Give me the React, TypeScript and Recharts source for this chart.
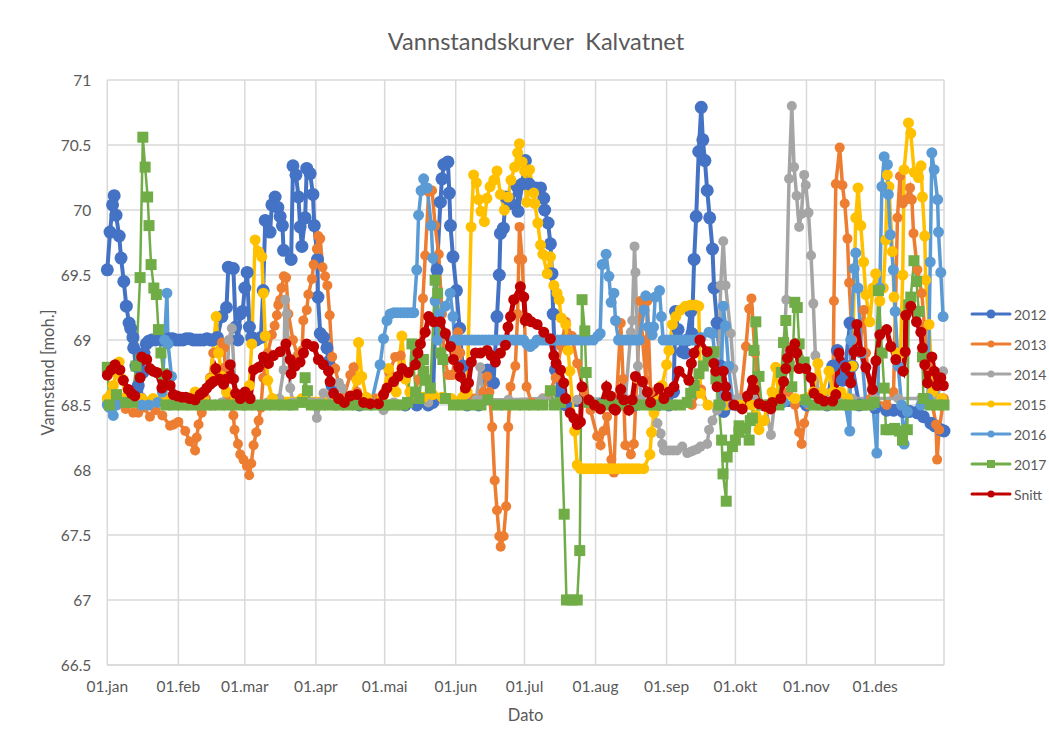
import { LineChart, Line, XAxis, YAxis, CartesianGrid, Legend } from 'recharts';

type Pt = number[];

// [day of year, water level]
const s2012: Pt[] = [[0,69.54],[1.2,69.83],[2.3,70.04],[3,70.11],[3.8,69.96],[5.2,69.8],[6,69.63],[7.2,69.45],[8.3,69.26],[9.5,69.13],[10.2,69.09],[11.2,69.02],[11.5,68.94],[12.5,68.8],[13.5,68.65],[14.5,68.55],[15.5,68.75],[16,68.9],[17,68.97],[18,68.99],[19.4,69.0],[21,69.0],[22.5,69.01],[24,69.0],[25.5,69.0],[27,69.01],[28.5,69.01],[30,69.0],[31.5,69.0],[33,69.0],[34.5,69.01],[36,69.01],[37.5,69.0],[39,69.0],[40.5,69.0],[42,69.0],[43.5,69.01],[45,69.0],[46,69.0],[48,69.02],[50,69.18],[52,69.25],[52.8,69.56],[55,69.55],[56,69.1],[57,69.0],[58,69.2],[59,69.22],[60,69.4],[61,69.52],[62,69.1],[63,69.02],[65,69.0],[67,69.02],[68,69.38],[68.9,69.92],[71,69.83],[71.8,70.04],[73.2,70.1],[74.4,70.02],[75.4,69.95],[76.4,69.88],[76.9,69.69],[80.2,69.62],[81,70.34],[82.3,70.27],[83.4,70.1],[84.1,69.87],[84.9,69.72],[86.3,69.94],[87,70.32],[88.5,70.28],[89.7,70.12],[90.3,69.88],[91.7,69.62],[91.9,69.33],[92.9,69.05],[94.3,69.02],[95.8,68.94],[96.4,68.83],[98,68.65],[100,68.52],[110,68.5],[120,68.5],[130,68.5],[135,68.5],[140,68.5],[142,68.52],[143.8,69.54],[145.3,70.06],[146,70.24],[146.8,70.35],[148.6,70.37],[149.2,70.13],[149.7,69.88],[150.8,69.64],[152.3,69.38],[153.7,69.09],[155,68.8],[157,68.5],[162,68.5],[165.9,68.77],[168.5,68.67],[170,69.18],[171,69.5],[171.5,69.82],[172.8,69.86],[173.8,70.1],[176,70.05],[178.8,70.18],[179.2,69.99],[181,70.2],[182.4,70.38],[184,70.2],[187,70.17],[189,70.17],[190.4,70.09],[190.8,70.0],[192.3,69.9],[193.3,69.74],[194,69.51],[194.5,69.2],[195.5,68.77],[197,68.6],[200,68.5],[215,68.5],[230,68.5],[240,68.5],[245,68.5],[247,68.6],[247.9,69.22],[249,69.08],[250.8,68.91],[252,68.9],[253,69.0],[254.5,69.22],[255,69.05],[256,69.62],[256.9,69.95],[258,70.45],[259.1,70.79],[259.8,70.54],[260.7,70.38],[261.7,70.15],[262.8,69.94],[264,69.7],[264.7,69.4],[266,69.13],[267.5,68.8],[268.9,68.45],[275,68.5],[290,68.5],[305,68.5],[314,68.5],[316.5,68.8],[318.5,68.92],[320.7,68.69],[322,68.8],[324,69.13],[325,68.8],[328,68.5],[335,68.48],[340,68.46],[343,68.46],[347,68.45],[350,68.45],[353.4,68.44],[356,68.41],[359.3,68.36],[361,68.34],[363.6,68.31],[365,68.3]];

const s2013: Pt[] = [[0,68.55],[5,68.52],[8,68.47],[11.3,68.44],[13.5,68.44],[16,68.48],[18.6,68.41],[21,68.46],[24,68.42],[27.4,68.34],[29,68.35],[31,68.37],[34,68.3],[36,68.22],[38.3,68.15],[39,68.25],[39.8,68.35],[41.2,68.44],[43,68.55],[44.8,68.71],[46.2,68.9],[50,68.98],[51,68.94],[51.4,68.79],[53,68.55],[55,68.42],[55.5,68.31],[57,68.2],[58,68.12],[59.4,68.08],[60.9,68.03],[61.9,67.96],[62.8,68.05],[63.8,68.19],[65,68.29],[66,68.38],[67,68.48],[68,68.71],[70,68.9],[71.8,69.04],[73,69.11],[74,69.19],[74.6,69.27],[75.4,69.31],[76,69.4],[77,69.49],[78,69.48],[79,69.2],[81,69.0],[83,68.88],[85,68.92],[85.5,69.15],[87,69.23],[87.7,69.35],[89.3,69.47],[90,69.58],[91.4,69.7],[92,69.8],[92.9,69.78],[93.9,69.56],[95,69.49],[96,69.42],[97,69.19],[98.1,68.87],[99.4,68.78],[100.9,68.67],[103,68.55],[106,68.73],[107.4,68.79],[109,68.6],[112,68.55],[117,68.55],[121,68.6],[123,68.75],[125.6,68.87],[128,68.88],[130,68.7],[133,68.55],[136,68.7],[137.7,69.32],[138.7,69.65],[140.2,70.14],[141.7,70.15],[143,69.88],[144.6,69.66],[146,69.2],[147,68.85],[148.8,68.73],[150.5,68.73],[152,68.9],[153,69.06],[154,68.9],[156,68.6],[160,68.55],[164,68.6],[165.7,68.72],[166.7,68.6],[167.9,68.33],[169,67.92],[170,67.69],[171,67.49],[171.6,67.41],[172.9,67.49],[174,67.72],[174.9,68.33],[175.9,68.64],[178,68.8],[179,69.2],[179.5,69.62],[179.8,69.87],[181,69.62],[182,69.15],[182.9,68.64],[185,68.52],[190,68.55],[193,68.6],[195.6,68.71],[198,68.95],[200,69.14],[202.7,69.03],[205,68.82],[208,68.6],[210.8,68.46],[213.7,68.26],[215.2,68.19],[216.5,68.3],[218,68.41],[219.9,68.08],[221,67.98],[222,68.5],[224,69.13],[225,68.7],[226,68.19],[228.4,68.12],[229.7,68.2],[231,68.7],[232.6,69.3],[233.5,69.0],[235,68.69],[235.6,69.3],[237,68.6],[240,68.5],[250,68.5],[255,68.5],[259,68.62],[262,68.5],[270,68.5],[276,68.5],[278.6,68.95],[280,69.24],[281,69.32],[282.5,68.9],[285,68.5],[292,68.55],[297,68.6],[300,68.5],[301.8,68.29],[302.9,68.2],[304,68.36],[306,68.5],[312,68.55],[316.5,68.55],[317,69.3],[317.8,70.2],[319.5,70.48],[320.7,70.19],[321.7,70.05],[322.9,69.78],[323.6,69.44],[325,69.0],[328,68.9],[330,69.23],[331,68.9],[333,68.55],[340,68.5],[343,68.6],[344.7,69.94],[345.8,70.26],[347,70.05],[348.3,70.08],[350.2,70.17],[351,70.08],[351.7,69.82],[353.4,69.54],[355.3,69.36],[356.5,69.1],[358,68.8],[360,68.5],[361.5,68.35],[362,68.08],[362.9,68.31],[364.9,68.55]];

const s2014: Pt[] = [[0,68.52],[20,68.52],[40,68.52],[50,68.52],[52,68.6],[53,69.0],[54.3,69.09],[55.5,68.7],[57,68.52],[70,68.52],[75,68.55],[76.9,68.77],[77.6,69.31],[78.3,69.2],[79.8,68.63],[81,68.52],[88,68.52],[90,68.52],[91.4,68.4],[93,68.52],[94.3,68.59],[98,68.55],[100.9,68.67],[102.3,68.63],[105,68.52],[115,68.52],[120.5,68.46],[125,68.52],[140,68.52],[155,68.53],[161,68.54],[162.7,68.79],[164,68.54],[175,68.54],[190,68.55],[205,68.54],[220,68.55],[226,68.55],[228.4,69.06],[229,69.15],[230,69.72],[230.4,69.52],[231.5,68.8],[233,68.55],[237,68.5],[240,68.36],[241.4,68.28],[242.1,68.2],[242.8,68.15],[244,68.15],[245.5,68.15],[247,68.15],[248.5,68.15],[250.8,68.18],[253,68.13],[254.5,68.14],[255.8,68.15],[257.3,68.16],[258.8,68.18],[261.7,68.2],[262.5,68.31],[264,68.38],[266,68.46],[267.6,69.42],[268.7,69.76],[269.7,69.42],[272,69.05],[273.1,68.78],[275,68.55],[282,68.55],[287,68.5],[289.5,68.27],[291,68.5],[294,68.55],[296.2,69.31],[297.4,70.24],[298.6,70.8],[299.6,70.33],[300.7,70.11],[301.8,69.87],[302.8,69.97],[304,70.27],[304.7,70.19],[305.9,69.98],[307,69.65],[308,69.28],[308.9,68.88],[310,68.6],[315,68.55],[325,68.55],[335,68.55],[345,68.55],[355,68.55],[362,68.55],[364.6,68.76]];

const s2015: Pt[] = [[0,68.55],[1.5,68.58],[2.6,68.65],[4,68.75],[5.2,68.83],[6.5,68.7],[8,68.56],[15,68.55],[20,68.55],[25,68.55],[32,68.55],[38.3,68.6],[42,68.55],[45,68.7],[47.5,69.18],[48.5,68.9],[50,68.72],[52,68.6],[56,68.55],[60,68.56],[62,68.65],[63,68.97],[64.5,69.77],[66,69.68],[67.4,69.64],[68.1,69.36],[68.9,69.03],[70,68.69],[72,68.55],[85,68.55],[100,68.55],[106,68.56],[108.9,68.69],[109.6,68.98],[111,68.72],[113,68.56],[120,68.56],[122.7,68.78],[124,68.7],[126,68.6],[128.5,69.03],[130,68.7],[132,68.6],[135,68.58],[138,68.56],[142,68.58],[146,68.56],[150,68.55],[155,68.56],[157,68.6],[158.7,69.87],[159.8,70.27],[161,70.21],[162,70.08],[163,69.99],[164.5,69.91],[165.6,70.09],[167,70.18],[168.6,70.23],[170,70.3],[171.5,70.12],[173.2,70.0],[174.8,70.1],[176.1,70.23],[177.7,70.33],[179,70.44],[179.8,70.51],[181,70.37],[182,70.3],[183,70.06],[184.2,70.31],[186,70.13],[186.5,70.05],[187.8,69.9],[189,69.73],[190,69.66],[191.9,69.51],[193.3,69.64],[194.8,69.42],[196.2,69.36],[197.1,69.31],[198,69.17],[200,69.12],[201,68.92],[201.8,68.76],[203.9,68.3],[205,68.04],[206.4,68.01],[208,68.01],[209.5,68.01],[211,68.01],[212.5,68.01],[214,68.01],[215.5,68.01],[217,68.01],[218.5,68.01],[220,68.01],[221.5,68.01],[223,68.01],[224.5,68.01],[226,68.01],[227.5,68.01],[229,68.01],[230.5,68.01],[232,68.01],[234,68.01],[236.7,68.12],[237.4,68.29],[238.5,68.44],[240,68.53],[242,68.65],[244,68.81],[245,68.92],[246.5,69.12],[248,69.18],[250,69.23],[252.2,69.26],[254.5,69.27],[256.6,69.27],[258,69.26],[258.8,68.59],[262,68.5],[270,68.5],[276,68.5],[281,68.5],[283,68.42],[284.3,68.31],[286.5,68.38],[288,68.5],[290,68.6],[291.6,68.79],[293,68.55],[300,68.55],[308,68.6],[310,68.82],[312,68.6],[314.8,68.76],[316.5,68.6],[320,68.6],[323,68.55],[325,68.8],[326.5,69.94],[327.5,70.17],[328.7,69.88],[329.9,69.6],[330.9,69.35],[332.6,69.14],[334,69.4],[335.2,69.51],[337,69.3],[338.5,69.4],[339.6,69.77],[340.3,70.27],[341,70.18],[342.5,69.68],[343.2,69.33],[344.5,68.9],[346,68.9],[347,69.5],[347.6,70.31],[349.5,70.67],[350.5,70.59],[352,70.29],[353.9,70.25],[355,70.34],[355.6,70.1],[356.6,69.8],[357,69.46],[358.5,69.12],[360,68.6],[364,68.55]];

const s2016: Pt[] = [[0,68.5],[1,68.48],[2.6,68.42],[4,68.5],[15,68.5],[18,68.5],[22,68.52],[24,68.6],[25,69.0],[26,69.36],[26.5,68.97],[28,68.72],[30,68.52],[45,68.5],[60,68.5],[80,68.5],[100,68.5],[115,68.5],[119,68.81],[120.5,69.01],[122,69.15],[123.4,69.2],[125,69.21],[126.5,69.21],[128,69.21],[129.5,69.21],[131,69.21],[132.5,69.21],[133.7,69.21],[135,69.54],[135.8,69.96],[136.9,70.15],[138,70.24],[139.6,70.17],[141.3,69.88],[142,69.63],[143,69.3],[144,69.0],[145,69.2],[147.5,69.26],[149.6,69.36],[150.8,69.18],[151.5,69.0],[153,69.0],[154.5,69.0],[156,69.0],[157.5,69.0],[159,69.0],[160.5,69.0],[162,69.0],[163.5,69.0],[165,69.0],[166.5,69.0],[168,69.0],[169.5,69.0],[171,69.0],[172.5,69.0],[174,69.0],[175.5,69.0],[177,69.0],[178.5,69.0],[180,69.0],[181.6,69.0],[183,68.97],[184.5,68.95],[186,68.97],[187.5,69.0],[189,69.0],[190.5,69.0],[192,69.0],[193.5,69.0],[195,69.0],[196.5,69.0],[198,69.0],[199.5,69.0],[201,69.0],[202.5,69.0],[204,69.0],[205.5,69.0],[207,69.0],[208.5,69.0],[210,69.0],[212,69.0],[214,69.03],[215,69.05],[215.9,69.58],[217.6,69.66],[218.8,69.49],[219.8,69.29],[221,69.36],[221.7,69.15],[223,69.0],[224.5,69.0],[226,69.0],[227.5,69.0],[229,69.0],[230.5,69.0],[232,69.0],[234.2,69.23],[234.9,69.34],[236,69.1],[237.7,69.04],[238.3,69.1],[239,69.33],[240.9,69.38],[241.7,69.18],[242.5,69.0],[244,69.0],[245.5,69.0],[247,69.0],[248.5,69.0],[250,69.0],[251.5,69.0],[253,69.0],[254.5,69.0],[256,69.0],[259,69.02],[262.5,69.06],[264,69.05],[267.5,68.5],[268.7,69.26],[269.7,69.11],[271,68.8],[273,68.5],[285,68.5],[295,68.52],[305,68.52],[315,68.52],[322,68.5],[323.9,68.3],[324.3,69.0],[325.8,69.55],[326.5,69.67],[327.5,69.4],[329,68.9],[331,68.5],[334,68.5],[335.7,68.13],[337,69.4],[337.9,70.18],[338.9,70.41],[340.3,70.35],[340.7,70.12],[341.6,69.81],[342.9,69.54],[343.7,69.22],[345,68.8],[346.5,68.5],[347.6,68.2],[349,68.45],[355,68.5],[358,68.55],[359,69.6],[359.7,70.44],[360.7,70.31],[362.2,70.08],[362.6,69.83],[363.6,69.52],[364.6,69.18]];

const s2017: Pt[] = [[0,68.79],[1,68.5],[4,68.58],[8,68.52],[11,68.52],[12.5,68.8],[14.3,69.48],[15.5,70.56],[16.5,70.33],[17.6,70.1],[18.2,69.88],[19.1,69.58],[20.3,69.4],[21.4,69.35],[22.3,69.08],[23.4,68.9],[24.4,68.74],[25.5,68.5],[29,68.5],[33,68.5],[37,68.5],[41,68.5],[45,68.5],[49,68.5],[53,68.5],[57,68.5],[61,68.5],[65,68.5],[69,68.5],[73,68.5],[77,68.5],[81,68.5],[85,68.52],[86.3,68.71],[87.3,68.61],[89,68.5],[93,68.5],[97,68.5],[101,68.5],[105,68.5],[109,68.5],[113,68.5],[117,68.5],[121,68.5],[125,68.5],[129,68.5],[131,68.52],[132.9,68.97],[134.5,68.6],[136,68.55],[137.9,68.85],[138,68.76],[138.7,68.69],[140.9,68.63],[143,69.46],[144.1,69.36],[145.5,68.9],[146.4,68.85],[147.5,68.55],[151,68.5],[155,68.5],[159,68.5],[163,68.5],[166,68.54],[170,68.5],[174,68.5],[178,68.5],[182,68.5],[186,68.5],[190,68.5],[193.3,68.61],[195,68.5],[197.7,68.52],[199.3,67.66],[200.3,67.0],[202.8,67.0],[205,67.0],[206.1,67.38],[207.1,69.31],[208.3,69.07],[208.9,68.75],[210,68.52],[214,68.5],[218,68.5],[222,68.5],[226,68.5],[230,68.5],[234,68.5],[238,68.5],[242,68.5],[246,68.5],[250,68.5],[253,68.52],[254.5,68.59],[256,68.65],[258.1,68.74],[260,68.8],[262,68.85],[264.6,68.91],[265.5,68.7],[266.8,68.5],[268,68.23],[268.6,67.97],[270,67.76],[270.4,68.1],[272.7,68.18],[274,68.23],[275.5,68.29],[275.6,68.34],[277.8,68.32],[280,68.23],[280.5,68.38],[281.4,68.4],[282.1,68.92],[282.9,69.14],[284.3,68.72],[285.5,68.5],[289,68.5],[293,68.5],[294,68.75],[295,68.98],[296,69.15],[297.5,68.8],[298.6,68.64],[299.9,69.29],[301,69.25],[301.8,68.97],[304,68.83],[304.7,68.54],[308,68.5],[312,68.5],[316,68.5],[320,68.5],[324,68.5],[328,68.5],[332,68.5],[334.5,68.52],[336.4,69.38],[338,68.9],[338.9,68.63],[339.7,68.31],[341.5,68.31],[343.5,68.32],[345.5,68.3],[346.9,68.23],[349,68.31],[349.6,69.27],[350.5,69.33],[351.9,69.61],[353,69.45],[354,69.22],[355.6,68.87],[356,68.55],[359,68.5],[362,68.5],[365,68.5]];

const snitt: Pt[] = [[0,68.73],[1.7,68.77],[3.4,68.81],[5.5,68.77],[7,68.69],[9.2,68.62],[10.5,68.59],[12,68.57],[14.3,68.71],[15,68.87],[17.2,68.85],[18.6,68.78],[20,68.76],[21.6,68.75],[23.8,68.63],[26,68.73],[27.4,68.65],[28.8,68.58],[30.5,68.57],[32.5,68.56],[34.3,68.56],[36,68.55],[38.3,68.54],[40.5,68.58],[42,68.6],[43.4,68.63],[45,68.66],[46.3,68.68],[47.3,68.78],[49,68.7],[50.7,68.66],[52,68.7],[53.6,68.81],[55,68.7],[56,68.59],[58,68.55],[60.1,68.6],[62.3,68.55],[63.8,68.77],[66,68.79],[68.1,68.87],[70.3,68.82],[72.5,68.88],[75.4,68.91],[77.9,68.97],[79.8,68.85],[80.2,68.74],[82,68.8],[84.1,68.83],[85.6,68.9],[87,68.97],[90,68.95],[92.1,68.85],[94.3,68.81],[96.5,68.76],[97.2,68.68],[98.7,68.59],[100.9,68.55],[103.4,68.52],[106,68.57],[108.9,68.58],[111.8,68.52],[114.7,68.51],[118.3,68.51],[120.5,68.58],[122,68.63],[124.9,68.68],[126.8,68.72],[128.6,68.78],[131.3,68.75],[134.4,68.81],[135.5,68.9],[136.6,68.97],[138.7,69.06],[140.2,69.18],[142.4,69.14],[145.3,69.14],[147.5,69.05],[149.7,68.95],[151,68.85],[153.3,68.79],[154,68.72],[156.2,68.63],[157.6,68.67],[158.8,68.83],[160.6,68.9],[162.8,68.9],[165.7,68.92],[167.5,68.88],[169.3,68.83],[171.5,68.9],[173.7,68.96],[174.8,69.1],[175.9,69.18],[177.3,69.31],[180.2,69.41],[181.7,69.33],[182.4,69.15],[183.1,69.17],[185,69.14],[187.5,69.12],[190.4,69.06],[193.3,69.01],[194.8,68.88],[195.8,68.82],[197.7,68.77],[199.1,68.67],[199.9,68.55],[201.9,68.44],[203.5,68.4],[205,68.35],[206.4,68.37],[207.1,68.64],[210,68.54],[212.5,68.5],[215.1,68.47],[217.8,68.64],[219.5,68.57],[221,68.47],[221.7,68.46],[224,68.62],[225.3,68.54],[227.5,68.46],[229,68.54],[230.4,68.72],[233.4,68.68],[235.6,68.6],[237,68.52],[240.6,68.63],[242.8,68.55],[245,68.6],[247.2,68.64],[249.4,68.76],[253.7,68.69],[254.8,68.82],[256,68.9],[258.5,69.0],[261.7,68.91],[264.6,68.82],[265.4,68.76],[266,68.64],[268.7,68.76],[269.7,68.64],[270,68.57],[273.4,68.5],[277,68.47],[279.3,68.57],[281.4,68.69],[282.2,68.62],[284.3,68.51],[287,68.49],[289.4,68.47],[290.1,68.52],[293.8,68.55],[295,68.68],[296,68.78],[296.7,68.86],[298.1,68.92],[299.9,68.97],[300.7,68.9],[301.8,68.78],[304.7,68.78],[307,68.71],[308.3,68.59],[310.5,68.55],[312.7,68.53],[316.4,68.53],[317.8,68.58],[319.2,68.9],[322.1,68.79],[324.3,68.67],[325.8,68.91],[327,69.12],[328.7,68.91],[330.9,68.79],[333.8,68.62],[335.3,68.84],[337,69.04],[340,69.08],[341.8,68.95],[344,68.85],[347.2,68.76],[348.1,68.91],[348.3,69.19],[350.5,69.26],[353,69.14],[354.9,69.06],[355.6,68.94],[356.6,68.81],[357.8,68.67],[359.7,68.87],[360.7,68.76],[362,68.65],[363.6,68.71],[364.7,68.65]];

const monthDays = [0, 31, 60, 91, 121, 152, 182, 213, 244, 274, 305, 335, 365];
const monthLabels = ['01.jan', '01.feb', '01.mar', '01.apr', '01.mai', '01.jun', '01.jul', '01.aug', '01.sep', '01.okt', '01.nov', '01.des', ''];
const levelTicks = [66.5, 67, 67.5, 68, 68.5, 69, 69.5, 70, 70.5, 71];

const toRows = (pts: Pt[]) => pts.map(([day, level]) => ({ day, level }));

const seriesList = [
  { name: '2012', pts: s2012, color: '#4472C4', r: 6.5, width: 4 },
  { name: '2013', pts: s2013, color: '#ED7D31', r: 5, width: 3.5 },
  { name: '2014', pts: s2014, color: '#A5A5A5', r: 5, width: 3.5 },
  { name: '2015', pts: s2015, color: '#FFC000', r: 5.5, width: 3.5 },
  { name: '2016', pts: s2016, color: '#5B9BD5', r: 5.5, width: 3.5 },
  { name: '2017', pts: s2017, color: '#70AD47', r: 0, width: 2.5 },
  { name: 'Snitt', pts: snitt, color: '#C00000', r: 5.5, width: 5 },
];

const font = 'Lato, sans-serif';

const SquareDot = (props: any) => (
  <rect key={props.index} x={props.cx - 5.5} y={props.cy - 5.5} width={11} height={11} fill="#70AD47" />
);

function LegendBox() {
  return (
    <div style={{ fontFamily: font, fontSize: 14, color: '#595959' }}>
      {seriesList.map((s) => (
        <div key={s.name} style={{ height: 30, display: 'flex', alignItems: 'center' }}>
          <svg width={42} height={14}>
            <line x1={2} y1={7} x2={40} y2={7} stroke={s.color} strokeWidth={3} strokeLinecap="round" />
            {s.r > 0 ? <circle cx={21} cy={7} r={s.name === '2012' ? 4.5 : 3.5} fill={s.color} /> : <rect x={17} y={3} width={8} height={8} fill={s.color} />}
          </svg>
          <span style={{ marginLeft: 2 }}>{s.name}</span>
        </div>
      ))}
    </div>
  );
}

export default function App() {
  return (
    <div style={{ position: 'absolute', left: 0, top: 0, width: 1049, height: 740, background: '#fff' }}>
      <div style={{ position: 'absolute', top: 27, width: 1072, textAlign: 'center', fontFamily: font, fontSize: 23.6, color: '#595959', whiteSpace: 'pre' }}>
        Vannstandskurver  Kalvatnet
      </div>
      <LineChart width={1049} height={740} margin={{ top: 80, right: 26, bottom: 35, left: 47.3 }}>
        <CartesianGrid stroke="#d9d9d9" strokeWidth={1.5} />
        <XAxis
          dataKey="day"
          type="number"
          domain={[0, 365]}
          ticks={monthDays}
          interval={0}
          height={40}
          tickLine={false}
          axisLine={{ stroke: '#d9d9d9', strokeWidth: 1.5 }}
          tick={{ fill: '#595959', fontSize: 15.5, fontFamily: font }}
          tickFormatter={(v: number) => monthLabels[monthDays.indexOf(v)]}
          tickMargin={10}
          label={{ value: 'Dato', position: 'insideBottom', offset: -16, fill: '#595959', fontSize: 16.5, fontFamily: font }}
        />
        <YAxis
          type="number"
          domain={[66.5, 71]}
          ticks={levelTicks}
          interval={0}
          width={60}
          tickLine={false}
          axisLine={false}
          tick={{ fill: '#595959', fontSize: 15.5, fontFamily: font }}
          tickMargin={10}
          label={{ value: 'Vannstand [moh.]', angle: -90, position: 'insideLeft', offset: 1, fill: '#595959', fontSize: 16.5, fontFamily: font, style: { textAnchor: 'middle' } }}
        />
        <Legend layout="vertical" align="right" verticalAlign="top" content={<LegendBox />} wrapperStyle={{ left: 970, top: 299, width: 79 }} />
        {seriesList.map((s) => (
          <Line
            key={s.name}
            data={toRows(s.pts)}
            dataKey="level"
            name={s.name}
            stroke={s.color}
            strokeWidth={s.width}
            isAnimationActive={false}
            dot={s.r > 0 ? { r: s.r, fill: s.color, stroke: s.color, strokeWidth: 0 } : SquareDot}
            activeDot={false}
          />
        ))}
      </LineChart>
    </div>
  );
}
